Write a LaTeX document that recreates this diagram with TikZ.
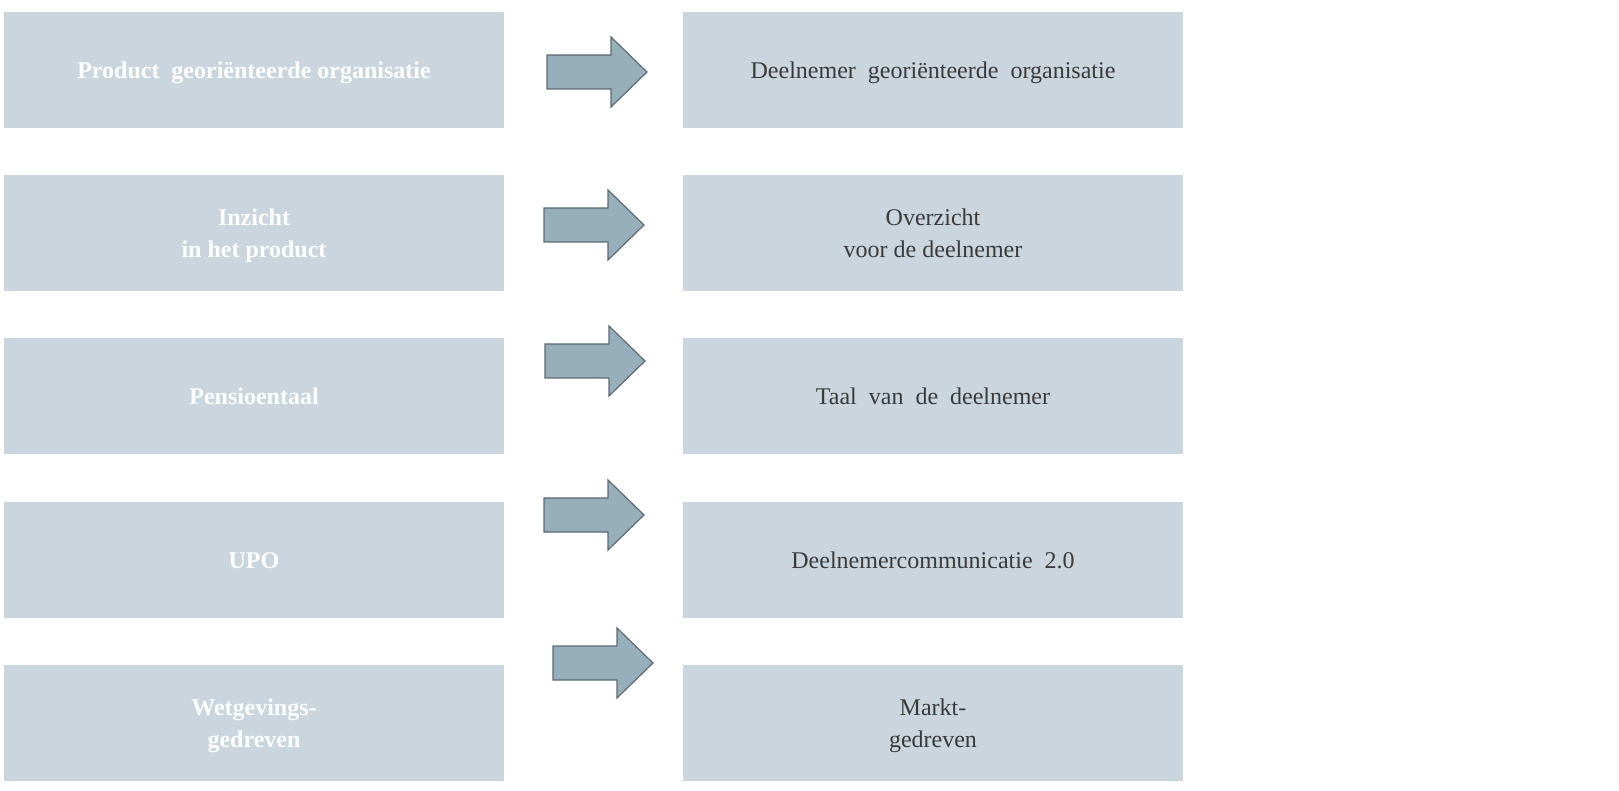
\documentclass[tikz,border=0pt]{standalone}
\usepackage{fontspec}
\setmainfont{Liberation Serif}
\definecolor{boxfill}{HTML}{CAD5DD}
\definecolor{arrowfill}{HTML}{97AEBB}
\definecolor{arrowline}{HTML}{5E6A72}
\definecolor{righttext}{HTML}{3A3A3A}
\tikzset{
	stagebox/.style={fill=boxfill,minimum width=250pt,minimum height=58pt,inner sep=0,align=center,text height=8.5pt,text depth=0pt},
	oldbox/.style={stagebox,text=white,font=\fontsize{12}{16}\selectfont\bfseries},
	newbox/.style={stagebox,text=righttext,font=\fontsize{12}{16}\selectfont},
	twoline/.style={text height={},text depth={}},
	blockarrow/.style={fill=arrowfill,draw=arrowline,line width=0.6pt,line join=miter}
}
\begin{document}
\begin{tikzpicture}
			\begin{scope}[x={0.5pt},y={-0.5pt}]
				\useasboundingbox (0,0) rectangle (1619,791);

				% left column
				\node[oldbox] (old1) at (254,70) {Product\ \ georiënteerde organisatie};
				\node[oldbox,twoline] (old2) at (254,233) {Inzicht\\\smash{in het product}};
				\node[oldbox] (old3) at (254,396) {Pensioentaal};
				\node[oldbox] (old4) at (254,560) {UPO};
				\node[oldbox,twoline] (old5) at (254,723) {Wetgevings-\\\smash{gedreven}};

				% right column
				\node[newbox] (new1) at (933,70) {Deelnemer\ \ georiënteerde\ \ organisatie};
				\node[newbox,twoline] (new2) at (933,233) {Overzicht\\\smash{voor de deelnemer}};
				\node[newbox] (new3) at (933,396) {Taal\ \ van\ \ de\ \ deelnemer};
				\node[newbox] (new4) at (933,560) {Deelnemercommunicatie\ \ 2.0};
				\node[newbox,twoline] (new5) at (933,723) {Markt-\\\smash{gedreven}};

				% block arrows (tail x, centre y)
				\foreach \ax/\ay [count=\i] in {547/72, 544/225, 545/361, 544/515, 553/663} {
					\coordinate (arr\i) at (\ax,\ay);
					\draw[blockarrow] (arr\i) ++(0,-17) -- ++(64,0) -- ++(0,-18) -- ++(36,35)
						-- ++(-36,35) -- ++(0,-18) -- ++(-64,0) -- cycle;
				}
			\end{scope}
		\end{tikzpicture}
\end{document}
